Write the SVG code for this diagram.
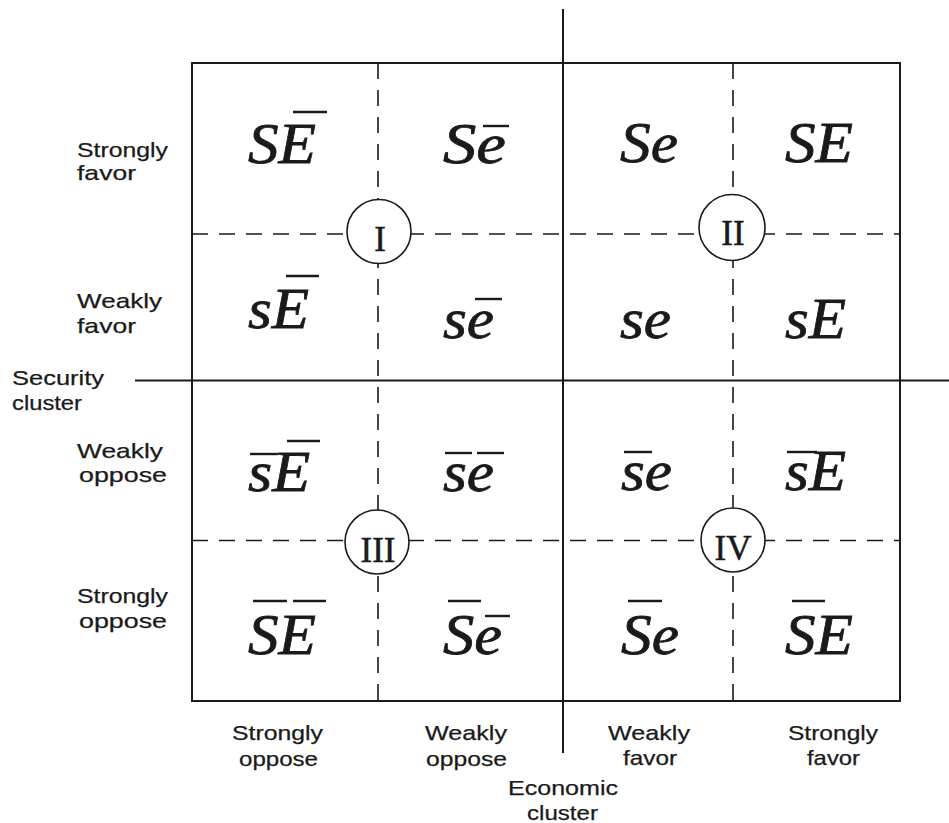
<svg xmlns="http://www.w3.org/2000/svg" width="949" height="823" viewBox="0 0 949 823">
<style>
.ax{stroke:#1a1a1a;stroke-width:2;fill:none}
.dash{stroke:#1a1a1a;stroke-width:1.6;stroke-dasharray:16 11;fill:none}
.ring{stroke:#1a1a1a;stroke-width:1.6;fill:#fff}
.rom{font-family:"Liberation Serif","Times New Roman",serif;font-size:35px;fill:#1a1a1a;stroke:#1a1a1a;stroke-width:0.5;text-anchor:middle}
.cell{font-family:"Liberation Serif","Times New Roman",serif;font-style:italic;font-size:57px;fill:#1a1a1a;stroke:#1a1a1a;stroke-width:0.8}
.ov{stroke:#1a1a1a;stroke-width:2.4}
.lbl{font-family:"Liberation Sans",Arial,sans-serif;font-size:21px;fill:#1a1a1a;stroke:#1a1a1a;stroke-width:0.25}
</style>
<rect width="949" height="823" fill="#fff"/>
<g id="connectors">
<rect class="ax" x="192" y="63" width="708" height="638"/>
<line class="ax" x1="563" y1="9" x2="563" y2="753"/>
<line class="ax" x1="135" y1="380.5" x2="949" y2="380.5"/>
<line class="dash" x1="378" y1="63" x2="378" y2="701"/>
<line class="dash" x1="733" y1="63" x2="733" y2="701"/>
<line class="dash" x1="192" y1="234" x2="900" y2="234"/>
<line class="dash" x1="192" y1="540.5" x2="900" y2="540.5"/>
</g>
<g id="quadrant-I"><circle class="ring" cx="379" cy="231.5" r="32"/><text class="rom" x="380" y="251">I</text></g>
<g id="quadrant-II"><circle class="ring" cx="732" cy="227.5" r="33"/><text class="rom" x="733" y="245">II</text></g>
<g id="quadrant-III"><circle class="ring" cx="377" cy="542" r="32"/><text class="rom" x="378" y="562">III</text></g>
<g id="quadrant-IV"><circle class="ring" cx="733" cy="540" r="32"/><text class="rom" x="733" y="560">IV</text></g>

<g id="r1c1"><text class="cell" x="248" y="163" textLength="68" lengthAdjust="spacingAndGlyphs">SE</text><line class="ov" x1="293" y1="112" x2="327" y2="112"/></g>
<g id="r1c2"><text class="cell" x="443" y="163" textLength="63" lengthAdjust="spacingAndGlyphs">Se</text><line class="ov" x1="483" y1="126" x2="509" y2="126"/></g>
<g id="r1c3"><text class="cell" x="620" y="162" textLength="58" lengthAdjust="spacingAndGlyphs">Se</text></g>
<g id="r1c4"><text class="cell" x="785" y="162" textLength="68" lengthAdjust="spacingAndGlyphs">SE</text></g>

<g id="r2c1"><text class="cell" x="248" y="328" textLength="61" lengthAdjust="spacingAndGlyphs">sE</text><line class="ov" x1="286" y1="276" x2="319" y2="276"/></g>
<g id="r2c2"><text class="cell" x="443" y="338" textLength="51" lengthAdjust="spacingAndGlyphs">se</text><line class="ov" x1="475" y1="299" x2="502" y2="299"/></g>
<g id="r2c3"><text class="cell" x="620" y="338" textLength="51" lengthAdjust="spacingAndGlyphs">se</text></g>
<g id="r2c4"><text class="cell" x="785" y="338" textLength="61" lengthAdjust="spacingAndGlyphs">sE</text></g>

<g id="r3c1"><text class="cell" x="248" y="491" textLength="62" lengthAdjust="spacingAndGlyphs">sE</text><line class="ov" x1="250" y1="454" x2="278" y2="454"/><line class="ov" x1="287" y1="441" x2="320" y2="441"/></g>
<g id="r3c2"><text class="cell" x="443" y="491" textLength="51" lengthAdjust="spacingAndGlyphs">se</text><line class="ov" x1="445" y1="453" x2="472" y2="453"/><line class="ov" x1="477" y1="453" x2="504" y2="453"/></g>
<g id="r3c3"><text class="cell" x="621" y="490" textLength="51" lengthAdjust="spacingAndGlyphs">se</text><line class="ov" x1="624" y1="452" x2="652" y2="452"/></g>
<g id="r3c4"><text class="cell" x="785" y="490" textLength="61" lengthAdjust="spacingAndGlyphs">sE</text><line class="ov" x1="787" y1="452" x2="817" y2="452"/></g>

<g id="r4c1"><text class="cell" x="248" y="654" textLength="68" lengthAdjust="spacingAndGlyphs">SE</text><line class="ov" x1="253" y1="601" x2="287" y2="601"/><line class="ov" x1="293" y1="601" x2="326" y2="601"/></g>
<g id="r4c2"><text class="cell" x="443" y="654" textLength="59" lengthAdjust="spacingAndGlyphs">Se</text><line class="ov" x1="448" y1="601" x2="481" y2="601"/><line class="ov" x1="485" y1="616" x2="510" y2="616"/></g>
<g id="r4c3"><text class="cell" x="621" y="654" textLength="58" lengthAdjust="spacingAndGlyphs">Se</text><line class="ov" x1="628" y1="601" x2="662" y2="601"/></g>
<g id="r4c4"><text class="cell" x="785" y="654" textLength="68" lengthAdjust="spacingAndGlyphs">SE</text><line class="ov" x1="792" y1="601" x2="825" y2="601"/></g>

<g id="security-labels">
<text class="lbl" x="77" y="157" textLength="91" lengthAdjust="spacingAndGlyphs">Strongly</text>
<text class="lbl" x="77" y="180" textLength="59" lengthAdjust="spacingAndGlyphs">favor</text>
<text class="lbl" x="77" y="308" textLength="85" lengthAdjust="spacingAndGlyphs">Weakly</text>
<text class="lbl" x="77" y="333" textLength="59" lengthAdjust="spacingAndGlyphs">favor</text>
<text class="lbl" x="12" y="385" textLength="92" lengthAdjust="spacingAndGlyphs">Security</text>
<text class="lbl" x="12" y="410" textLength="70" lengthAdjust="spacingAndGlyphs">cluster</text>
<text class="lbl" x="77" y="458" textLength="86" lengthAdjust="spacingAndGlyphs">Weakly</text>
<text class="lbl" x="79" y="482" textLength="88" lengthAdjust="spacingAndGlyphs">oppose</text>
<text class="lbl" x="77" y="603" textLength="91" lengthAdjust="spacingAndGlyphs">Strongly</text>
<text class="lbl" x="79" y="628" textLength="88" lengthAdjust="spacingAndGlyphs">oppose</text>
</g>
<g id="economic-labels">
<text class="lbl" x="232" y="740" textLength="91" lengthAdjust="spacingAndGlyphs">Strongly</text>
<text class="lbl" x="239" y="766" textLength="79" lengthAdjust="spacingAndGlyphs">oppose</text>
<text class="lbl" x="425" y="740" textLength="82" lengthAdjust="spacingAndGlyphs">Weakly</text>
<text class="lbl" x="426" y="766" textLength="81" lengthAdjust="spacingAndGlyphs">oppose</text>
<text class="lbl" x="608" y="740" textLength="82" lengthAdjust="spacingAndGlyphs">Weakly</text>
<text class="lbl" x="623" y="765" textLength="54" lengthAdjust="spacingAndGlyphs">favor</text>
<text class="lbl" x="788" y="740" textLength="90" lengthAdjust="spacingAndGlyphs">Strongly</text>
<text class="lbl" x="807" y="765" textLength="53" lengthAdjust="spacingAndGlyphs">favor</text>
<text class="lbl" x="508" y="795" textLength="110" lengthAdjust="spacingAndGlyphs">Economic</text>
<text class="lbl" x="527" y="820" textLength="71" lengthAdjust="spacingAndGlyphs">cluster</text>
</g>
</svg>
